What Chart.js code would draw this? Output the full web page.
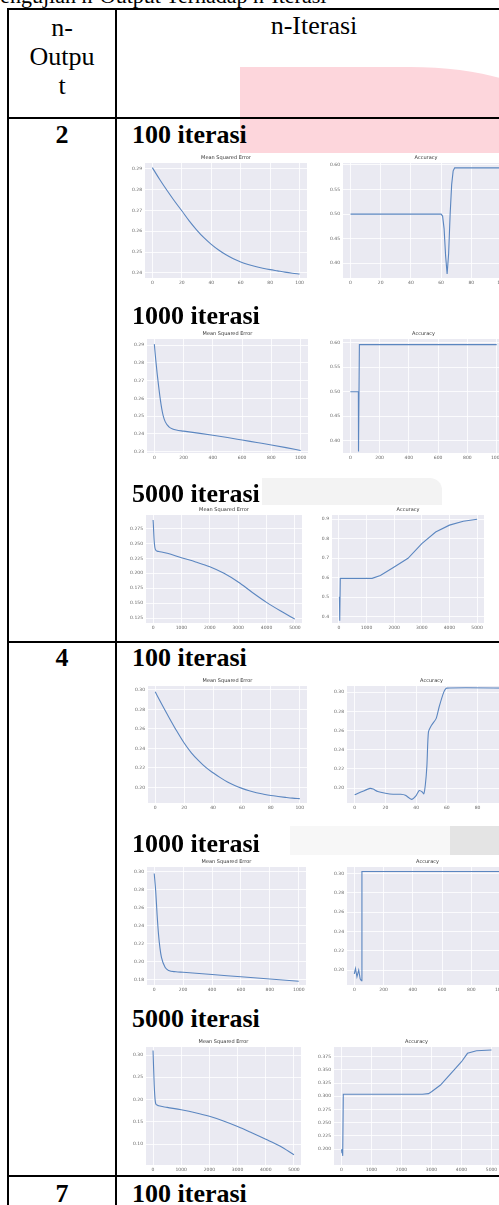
<!DOCTYPE html>
<html>
<head>
<meta charset="utf-8">
<script src="https://cdn.jsdelivr.net/npm/chart.js@4.4.0/dist/chart.umd.min.js"></script>
<style>
html, body { margin:0; padding:0; width:499px; height:1205px; overflow:hidden; background:#fff; }
body { position:relative; font-family:"Liberation Serif","Times New Roman",serif; color:#000; }
.ln { position:absolute; background:#000; z-index:3; }
.txt { position:absolute; font-size:26px; line-height:26px; white-space:nowrap; z-index:2; }
.b { font-weight:bold; }
.wm { position:absolute; }
canvas { position:absolute; z-index:1; }
</style>
</head>
<body>
<!-- watermark pieces behind the table -->
<div class="wm" style="left:240px;top:67px;width:300px;height:86px;background:#fdd6dc;border-top-right-radius:130px 40px;"></div>
<div class="wm" style="left:262px;top:478px;width:180px;height:27px;background:#f3f3f3;border-top-right-radius:12px;"></div>
<div class="wm" style="left:290px;top:826px;width:160px;height:29px;background:#f7f7f7;"></div>
<div class="wm" style="left:450px;top:826px;width:60px;height:29px;background:#e4e4e4;"></div>

<div class="txt" style="left:-12px;top:-15px;font-size:22px;line-height:22px;">Pengujian n-Output Terhadap n-Iterasi</div>

<!-- table lines -->
<div class="ln" style="left:7px;top:8px;width:2px;height:1197px;"></div>
<div class="ln" style="left:115px;top:8px;width:2px;height:1197px;"></div>
<div class="ln" style="left:7px;top:8px;width:500px;height:2px;"></div>
<div class="ln" style="left:7px;top:117px;width:500px;height:2px;"></div>
<div class="ln" style="left:7px;top:641px;width:500px;height:2px;"></div>
<div class="ln" style="left:7px;top:1175px;width:500px;height:2px;"></div>

<!-- header -->
<div class="txt" style="left:9px;width:106px;text-align:center;top:13px;line-height:29px;">n-<br>Outpu<br>t</div>
<div class="txt" style="left:117px;width:394px;text-align:center;top:13px;">n-Iterasi</div>

<!-- row labels and headings -->
<div class="txt b" style="left:9px;width:106px;text-align:center;top:122px;">2</div>
<div class="txt b" style="left:132px;top:122px;">100 iterasi</div>
<div class="txt b" style="left:132px;top:303px;">1000 iterasi</div>
<div class="txt b" style="left:132px;top:481px;">5000 iterasi</div>
<div class="txt b" style="left:9px;width:106px;text-align:center;top:645px;">4</div>
<div class="txt b" style="left:132px;top:645px;">100 iterasi</div>
<div class="txt b" style="left:132px;top:831px;">1000 iterasi</div>
<div class="txt b" style="left:132px;top:1006px;">5000 iterasi</div>
<div class="txt b" style="left:9px;width:106px;text-align:center;top:1181px;">7</div>
<div class="txt b" style="left:132px;top:1181px;">100 iterasi</div>

<script>
// x tick labels per iteration count
const xTicks100 = [0, 20, 40, 60, 80, 100];
const xTicks1000 = [0, 200, 400, 600, 800, 1000];
const xTicks5000 = [0, 1000, 2000, 3000, 4000, 5000];

// n-output 2, 100 iterasi
const o2i100MseX = [0,5,10,15,20,25,30,35,40,45,50,55,60,65,70,75,80,85,90,95,100];
const o2i100Mse = [0.2905,0.2848,0.2795,0.2745,0.2698,0.2650,0.2607,0.2569,0.2537,0.2510,0.2487,0.2468,0.2453,0.2441,0.2431,0.2423,0.2416,0.2410,0.2404,0.2399,0.2395];
const o2i100MseTicks = [0.24,0.25,0.26,0.27,0.28,0.29];
const o2i100AccX = [0,60,61,62,63,64,65,66,67,68,69,100];
const o2i100Acc = [0.500,0.500,0.496,0.470,0.415,0.378,0.420,0.500,0.560,0.588,0.594,0.594];
const o2i100AccTicks = [0.40,0.45,0.50,0.55,0.60];

// n-output 2, 1000 iterasi
const o2i1000MseX = [0,10,20,30,40,50,60,75,100,125,150,200,300,400,500,600,700,800,900,1000];
const o2i1000Mse = [0.2905,0.2815,0.2735,0.2665,0.2600,0.2545,0.2505,0.2468,0.2440,0.2428,0.2422,0.2416,0.2405,0.2393,0.2380,0.2366,0.2352,0.2338,0.2323,0.2307];
const o2i1000MseTicks = [0.23,0.24,0.25,0.26,0.27,0.28,0.29];
const o2i1000AccX = [0,55,56,62,1000];
const o2i1000Acc = [0.500,0.500,0.378,0.596,0.596];
const o2i1000AccTicks = [0.40,0.45,0.50,0.55,0.60];

// n-output 2, 5000 iterasi
const o2i5000MseX = [0,10,20,40,60,80,100,150,200,500,1000,1500,2000,2500,3000,3500,4000,4500,5000];
const o2i5000Mse = [0.289,0.281,0.270,0.253,0.244,0.240,0.2385,0.237,0.2365,0.2335,0.226,0.219,0.211,0.200,0.1855,0.168,0.1515,0.137,0.1235];
const o2i5000MseTicks = [0.125,0.150,0.175,0.200,0.225,0.250,0.275];
const o2i5000AccX = [0,20,30,50,1200,1500,2000,2500,3000,3500,4000,4500,5000];
const o2i5000Acc = [0.50,0.50,0.38,0.597,0.597,0.612,0.655,0.700,0.775,0.835,0.870,0.890,0.900];
const o2i5000AccTicks = [0.4,0.5,0.6,0.7,0.8,0.9];

// n-output 4, 100 iterasi
const o4i100MseX = [0,5,10,15,20,25,30,35,40,45,50,55,60,65,70,75,80,85,90,95,100];
const o4i100Mse = [0.298,0.284,0.2705,0.2575,0.2455,0.2355,0.2275,0.2205,0.2150,0.2100,0.2055,0.2020,0.1990,0.1965,0.1945,0.1930,0.1917,0.1907,0.1898,0.1890,0.1885];
const o4i100MseTicks = [0.20,0.22,0.24,0.26,0.28,0.30];
const o4i100AccX = [0,5,10,12,15,20,25,30,33,37,40,42,44,45,46,47,48,50,53,55,58,60,100];
const o4i100Acc = [0.193,0.1965,0.1997,0.199,0.1965,0.1947,0.1936,0.1936,0.1926,0.1883,0.1922,0.1975,0.196,0.194,0.2035,0.223,0.2583,0.2654,0.2724,0.2848,0.300,0.3042,0.3042];
const o4i100AccTicks = [0.20,0.22,0.24,0.26,0.28,0.30];

// n-output 4, 1000 iterasi
const o4i1000MseX = [0,10,20,30,40,50,75,100,150,200,400,600,800,1000];
const o4i1000Mse = [0.298,0.279,0.252,0.230,0.215,0.205,0.194,0.1905,0.189,0.1885,0.186,0.1835,0.181,0.1785];
const o4i1000MseTicks = [0.18,0.20,0.22,0.24,0.26,0.28,0.30];
const o4i1000AccX = [0,8,18,30,40,48,52,1000];
const o4i1000Acc = [0.196,0.2015,0.193,0.200,0.191,0.189,0.302,0.302];
const o4i1000AccTicks = [0.20,0.22,0.24,0.26,0.28,0.30];

// n-output 4, 5000 iterasi
const o4i5000MseX = [0,20,40,60,80,100,150,200,500,1000,1500,2000,2500,3000,3500,4000,4500,5000];
const o4i5000Mse = [0.310,0.270,0.235,0.210,0.196,0.190,0.1875,0.186,0.1825,0.177,0.1705,0.1625,0.152,0.1395,0.1255,0.111,0.0955,0.076];
const o4i5000MseTicks = [0.10,0.15,0.20,0.25,0.30];
const o4i5000AccX = [0,15,25,40,60,2700,2900,3000,3300,3500,3800,4000,4200,4500,5000];
const o4i5000Acc = [0.199,0.192,0.200,0.187,0.3037,0.3037,0.305,0.3086,0.3213,0.334,0.353,0.3655,0.3814,0.3864,0.3876];
const o4i5000AccTicks = [0.200,0.225,0.250,0.275,0.300,0.325,0.350,0.375];

const MSE = 'Mean Squared Error';
const ACC = 'Accuracy';

// plot rect [left, top, right, bottom] in page px, x range, y range
const charts = [
  { rect: [145,163,307,278], title: MSE, xs: o2i100MseX, ys: o2i100Mse, xr: [-5,105], xt: xTicks100, yr: [0.2376,0.2927], yt: o2i100MseTicks, dec: 2, smooth: true },
  { rect: [343,163,509,278], title: ACC, xs: o2i100AccX, ys: o2i100Acc, xr: [-5,105], xt: xTicks100, yr: [0.370,0.604], yt: o2i100AccTicks, dec: 2 },
  { rect: [147,339,308,453], title: MSE, xs: o2i1000MseX, ys: o2i1000Mse, xr: [-50,1050], xt: xTicks1000, yr: [0.2293,0.2934], yt: o2i1000MseTicks, dec: 2, smooth: true },
  { rect: [343,339,504,453], title: ACC, xs: o2i1000AccX, ys: o2i1000Acc, xr: [-50,1050], xt: xTicks1000, yr: [0.375,0.6075], yt: o2i1000AccTicks, dec: 2 },
  { rect: [146,515,302,623], title: MSE, xs: o2i5000MseX, ys: o2i5000Mse, xr: [-250,5250], xt: xTicks5000, yr: [0.117,0.2974], yt: o2i5000MseTicks, dec: 3, smooth: true },
  { rect: [332,515,484,623], title: ACC, xs: o2i5000AccX, ys: o2i5000Acc, xr: [-250,5250], xt: xTicks5000, yr: [0.368,0.922], yt: o2i5000AccTicks, dec: 1 },
  { rect: [148,686,307,803], title: MSE, xs: o4i100MseX, ys: o4i100Mse, xr: [-5,105], xt: xTicks100, yr: [0.184,0.304], yt: o4i100MseTicks, dec: 2, smooth: true },
  { rect: [347,686,516,803], title: ACC, xs: o4i100AccX, ys: o4i100Acc, xr: [-5,105], xt: xTicks100, yr: [0.1845,0.3064], yt: o4i100AccTicks, dec: 2, tension: 0.2 },
  { rect: [147,867,306,985], title: MSE, xs: o4i1000MseX, ys: o4i1000Mse, xr: [-50,1050], xt: xTicks1000, yr: [0.1744,0.3052], yt: o4i1000MseTicks, dec: 2, smooth: true },
  { rect: [347,867,508,985], title: ACC, xs: o4i1000AccX, ys: o4i1000Acc, xr: [-50,1050], xt: xTicks1000, yr: [0.1845,0.3066], yt: o4i1000AccTicks, dec: 2 },
  { rect: [146,1047,301,1165], title: MSE, xs: o4i5000MseX, ys: o4i5000Mse, xr: [-250,5250], xt: xTicks5000, yr: [0.053,0.318], yt: o4i5000MseTicks, dec: 2, smooth: true },
  { rect: [334,1047,499,1165], title: ACC, xs: o4i5000AccX, ys: o4i5000Acc, xr: [-250,5250], xt: xTicks5000, yr: [0.1697,0.3934], yt: o4i5000AccTicks, dec: 3 }
];

// white image + seaborn grey plot area
const bgPlugin = {
  id: 'bg',
  beforeDraw(chart) {
    const { ctx, chartArea: a } = chart;
    ctx.save();
    ctx.fillStyle = '#fff';
    ctx.fillRect(0, 0, chart.width, chart.height);
    ctx.fillStyle = '#eaeaf2';
    ctx.fillRect(a.left, a.top, a.right - a.left, a.bottom - a.top);
    ctx.restore();
  }
};

const YW = 18, TH = 10, XH = 12;
const tickFont = { family: 'DejaVu Sans', size: 4.5 };

charts.forEach(c => {
  const [l, t, r, b] = c.rect;
  const cv = document.createElement('canvas');
  const w = (r - l) + YW + 1, h = (b - t) + TH + XH;
  cv.width = w; cv.height = h;
  cv.style.left = (l - YW) + 'px';
  cv.style.top = (t - TH) + 'px';
  cv.style.filter = 'blur(0.25px)';
  document.body.appendChild(cv);

  new Chart(cv.getContext('2d'), {
    type: 'line',
    data: {
      datasets: [{
        data: c.xs.map((x, i) => ({ x: x, y: c.ys[i] })),
        borderColor: '#5b86c0',
        borderWidth: 1.1,
        pointRadius: 0,
        fill: false,
        tension: c.smooth ? 0.4 : (c.tension || 0),
        cubicInterpolationMode: c.smooth ? 'monotone' : 'default'
      }]
    },
    options: {
      responsive: false,
      animation: false,
      layout: { padding: { right: 1 } },
      plugins: {
        legend: { display: false },
        tooltip: { enabled: false },
        title: {
          display: true, text: c.title, fullSize: false, color: '#333',
          font: { family: 'DejaVu Sans', size: 5, weight: 'normal' },
          padding: { top: 2, bottom: 2 }
        }
      },
      scales: {
        x: {
          type: 'linear', min: c.xr[0], max: c.xr[1],
          afterBuildTicks: s => { s.ticks = c.xt.map(v => ({ value: v })); },
          ticks: { maxRotation: 0, autoSkip: false, font: tickFont, color: '#666', padding: 2,
            callback: v => String(v) },
          grid: { color: '#fff', lineWidth: 0.8, drawTicks: false },
          border: { display: false },
          afterFit: s => { s.height = XH; }
        },
        y: {
          min: c.yr[0], max: c.yr[1],
          afterBuildTicks: s => { s.ticks = c.yt.map(v => ({ value: v })); },
          ticks: { autoSkip: false, font: tickFont, color: '#666', padding: 3,
            callback: v => v.toFixed(c.dec) },
          grid: { color: '#fff', lineWidth: 0.8, drawTicks: false },
          border: { display: false },
          afterFit: s => { s.width = YW; }
        }
      }
    },
    plugins: [bgPlugin]
  });
});
</script>
</body>
</html>
